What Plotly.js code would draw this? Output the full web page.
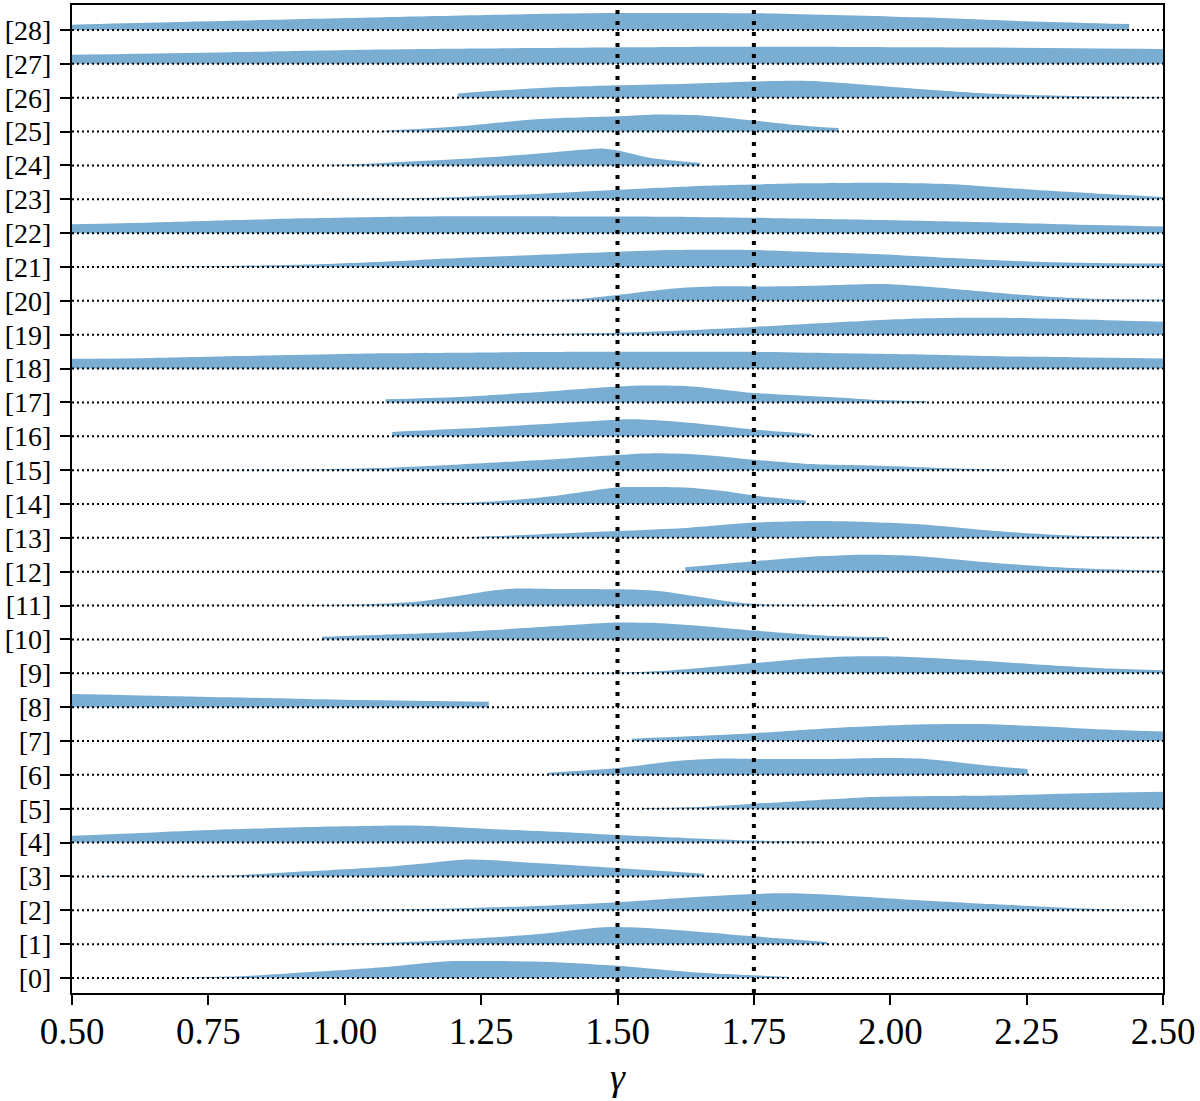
<!DOCTYPE html>
<html>
<head>
<meta charset="utf-8">
<script src="https://cdn.plot.ly/plotly-3.0.1.min.js"></script>
<style>html,body{margin:0;padding:0;background:#fff;}#chart{width:1200px;height:1101px;}</style>
</head>
<body>
<div id="chart"></div>
<script>
// Row labels
const rowLabels = ["[0]","[1]","[2]","[3]","[4]","[5]","[6]","[7]","[8]","[9]","[10]","[11]","[12]","[13]","[14]","[15]","[16]","[17]","[18]","[19]","[20]","[21]","[22]","[23]","[24]","[25]","[26]","[27]","[28]"];
// x tick values
const xTicks = [0.5, 0.75, 1.0, 1.25, 1.5, 1.75, 2.0, 2.25, 2.5];
// reference vertical lines
const refLines = [1.5, 1.75];

// Density profiles: gamma positions and relative density (peak = 1)
const gx0  = [0.698,0.817,0.93,1.07,1.182,1.252,1.365,1.5,1.631,1.75,1.814];
const d0   = [0.02,0.12,0.34,0.64,0.98,1.0,0.96,0.72,0.36,0.16,0.08];
const gx1  = [0.915,1.07,1.21,1.351,1.435,1.477,1.533,1.631,1.75,1.884];
const d1   = [0.02,0.08,0.28,0.58,0.88,1.0,0.98,0.78,0.46,0.12];
const gx2  = [0.986,1.21,1.351,1.5,1.631,1.75,1.814,1.912,2.052,2.193,2.333,2.403,2.5];
const d2   = [0.02,0.12,0.26,0.48,0.76,0.96,1.0,0.88,0.6,0.36,0.14,0.06,0.02];
const gx3  = [0.551,0.789,0.929,1.07,1.154,1.224,1.351,1.5,1.659];
const d3   = [0.02,0.06,0.3,0.56,0.8,1.0,0.8,0.5,0.16];
const gx4  = [0.5,0.649,0.789,0.958,1.07,1.154,1.28,1.421,1.5,1.631,1.75,1.877];
const d4   = [0.4,0.6,0.78,0.94,1.0,0.98,0.78,0.58,0.44,0.26,0.12,0.06];
const gx5  = [1.547,1.631,1.75,1.842,1.982,2.193,2.333,2.5];
const d5   = [0.04,0.08,0.3,0.46,0.7,0.78,0.9,1.0];
const gx6  = [1.372,1.5,1.603,1.687,1.75,1.884,1.982,2.052,2.165,2.252];
const d6   = [0.12,0.4,0.8,0.96,0.94,0.94,1.0,0.96,0.6,0.34];
const gx7  = [1.526,1.631,1.75,1.912,2.052,2.165,2.263,2.403,2.5];
const d7   = [0.14,0.28,0.46,0.8,0.98,1.0,0.88,0.66,0.56];
const gx8  = [0.5,0.649,0.789,0.929,1.07,1.264];
const d8   = [0.78,0.68,0.58,0.48,0.4,0.32];
const gx9  = [1.266,1.5,1.603,1.75,1.842,1.94,2.024,2.136,2.263,2.403,2.5];
const d9   = [0.02,0.04,0.18,0.6,0.86,1.0,0.98,0.8,0.54,0.28,0.18];
const gx10 = [0.958,1.07,1.21,1.351,1.5,1.561,1.659,1.75,1.884,1.996];
const d10  = [0.16,0.28,0.44,0.72,1.0,0.98,0.78,0.52,0.22,0.14];
const gx11 = [0.726,1.014,1.14,1.266,1.308,1.393,1.5,1.575,1.701,1.75,1.919];
const d11  = [0.02,0.06,0.26,0.86,1.0,0.98,0.96,0.86,0.26,0.1,0.04];
const gx12 = [1.624,1.75,1.842,1.954,2.052,2.193,2.333,2.5];
const d12  = [0.26,0.62,0.86,1.0,0.92,0.52,0.22,0.06];
const gx13 = [1.224,1.351,1.5,1.631,1.75,1.856,1.912,2.052,2.193,2.333,2.5];
const d13  = [0.02,0.2,0.4,0.6,0.9,1.0,0.98,0.8,0.4,0.14,0.06];
const gx14 = [1.157,1.28,1.379,1.5,1.547,1.631,1.701,1.75,1.845];
const d14  = [0.02,0.16,0.46,0.98,1.0,0.96,0.74,0.5,0.2];
const gx15 = [0.593,0.929,1.056,1.21,1.351,1.5,1.575,1.659,1.75,1.842,1.982,2.122,2.221];
const d15  = [0.01,0.04,0.12,0.34,0.58,0.9,1.0,0.9,0.62,0.38,0.26,0.1,0.04];
const gx16 = [1.087,1.21,1.351,1.5,1.533,1.631,1.75,1.856];
const d16  = [0.26,0.44,0.7,0.98,1.0,0.8,0.4,0.14];
const gx17 = [1.075,1.21,1.351,1.5,1.554,1.631,1.75,1.842,1.912,1.982,2.066];
const d17  = [0.18,0.32,0.6,0.94,1.0,0.96,0.56,0.4,0.28,0.14,0.08];
const gx18 = [0.5,0.649,0.789,0.929,1.07,1.21,1.351,1.772,1.912,2.052,2.193,2.333,2.5];
const d18  = [0.58,0.63,0.73,0.81,0.9,0.94,0.98,0.98,0.9,0.83,0.73,0.67,0.6];
const gx19 = [1.294,1.5,1.631,1.75,1.912,2.052,2.193,2.333,2.5];
const d19  = [0.02,0.12,0.27,0.46,0.75,0.96,1.0,0.92,0.77];
const gx20 = [1.294,1.421,1.5,1.603,1.673,1.75,1.842,1.982,2.052,2.165,2.263,2.361,2.5];
const d20  = [0.02,0.1,0.35,0.73,0.85,0.85,0.88,1.0,0.88,0.57,0.3,0.14,0.08];
const gx21 = [0.5,0.789,0.929,1.07,1.21,1.351,1.5,1.603,1.75,1.842,1.982,2.122,2.263,2.403,2.5];
const d21  = [0.01,0.06,0.14,0.31,0.53,0.71,0.9,1.0,1.0,0.9,0.75,0.51,0.31,0.22,0.2];
const gx22 = [0.5,0.649,0.789,0.929,1.07,1.21,1.5,1.631,1.772,1.912,2.052,2.193,2.333,2.5];
const d22  = [0.53,0.63,0.76,0.88,0.96,1.0,0.98,0.96,0.9,0.82,0.73,0.63,0.51,0.39];
const gx23 = [0.901,1.07,1.21,1.351,1.5,1.631,1.75,1.842,1.982,2.052,2.136,2.263,2.361,2.5];
const d23  = [0.02,0.04,0.14,0.31,0.56,0.76,0.87,0.94,0.98,0.94,0.85,0.56,0.37,0.14];
const gx24 = [0.972,1.07,1.21,1.351,1.435,1.47,1.5,1.561,1.652];
const d24  = [0.02,0.15,0.38,0.69,0.92,1.0,0.88,0.44,0.15];
const gx25 = [1.064,1.21,1.351,1.5,1.561,1.659,1.75,1.842,1.905];
const d25  = [0.02,0.31,0.73,0.9,1.0,0.94,0.65,0.35,0.21];
const gx26 = [1.207,1.351,1.5,1.631,1.75,1.842,1.912,2.052,2.193,2.333,2.5];
const d26  = [0.25,0.56,0.73,0.83,0.96,1.0,0.87,0.52,0.23,0.1,0.04];
const gx27 = [0.5,0.789,1.07,1.351,1.631,1.912,2.193,2.5];
const d27  = [0.54,0.69,0.85,0.94,1.0,1.0,0.96,0.88];
const gx28 = [0.5,0.789,1.07,1.351,1.491,1.772,2.052,2.263,2.438];
const d28  = [0.31,0.54,0.75,0.94,1.0,0.98,0.75,0.5,0.35];

const profilesX = [gx0,gx1,gx2,gx3,gx4,gx5,gx6,gx7,gx8,gx9,gx10,gx11,gx12,gx13,gx14,gx15,gx16,gx17,gx18,gx19,gx20,gx21,gx22,gx23,gx24,gx25,gx26,gx27,gx28];
const profilesD = [d0,d1,d2,d3,d4,d5,d6,d7,d8,d9,d10,d11,d12,d13,d14,d15,d16,d17,d18,d19,d20,d21,d22,d23,d24,d25,d26,d27,d28];

const HALF = 0.5;
const fillColor = 'rgba(31,119,180,0.6)';

const traces = [];
profilesX.forEach((xs, i) => {
  const ds = profilesD[i];
  // baseline of the half-violin
  traces.push({
    type: 'scatter', mode: 'lines',
    x: [xs[0], xs[xs.length - 1]], y: [i, i],
    line: {width: 0, color: 'rgba(0,0,0,0)'},
    hoverinfo: 'skip', showlegend: false
  });
  // smoothed upper outline, filled down to the baseline
  traces.push({
    type: 'scatter', mode: 'lines',
    x: xs, y: ds.map(d => i + HALF * d),
    fill: 'tonexty', fillcolor: fillColor,
    line: {width: 0, color: fillColor, shape: 'spline', smoothing: 0.8},
    hoverinfo: 'skip', showlegend: false
  });
});

const shapes = [];
rowLabels.forEach((lab, i) => {
  shapes.push({type: 'line', xref: 'paper', yref: 'y', x0: 0, x1: 1, y0: i, y1: i,
    line: {color: 'black', width: 2, dash: '2px,3px'}, layer: 'above'});
});
refLines.forEach(v => {
  shapes.push({type: 'line', xref: 'x', yref: 'paper', x0: v, x1: v, y0: 0, y1: 1,
    line: {color: 'black', width: 4, dash: '4px,7px'}, layer: 'above'});
});

const serif = '"Liberation Serif", "DejaVu Serif", serif';
const layout = {
  width: 1200, height: 1101,
  margin: {l: 72, r: 37, t: 5, b: 108},
  paper_bgcolor: 'white', plot_bgcolor: 'white',
  showlegend: false,
  xaxis: {
    range: [0.5, 2.5], tickvals: xTicks, ticktext: xTicks.map(v => v.toFixed(2)),
    ticks: 'outside', ticklen: 10, tickwidth: 2, tickcolor: 'black',
    showline: true, linewidth: 2, linecolor: 'black', mirror: true,
    showgrid: false, zeroline: false, ticklabelstandoff: -5,
    tickfont: {family: serif, size: 37, color: 'black'},
    title: {text: '<i>γ</i>', font: {family: serif, size: 38, color: 'black'}, standoff: 12}
  },
  yaxis: {
    range: [-0.443, 28.738], tickvals: rowLabels.map((_, i) => i), ticktext: rowLabels,
    ticks: 'outside', ticklen: 10, tickwidth: 2, tickcolor: 'black',
    showline: true, linewidth: 2, linecolor: 'black', mirror: true,
    showgrid: false, zeroline: false, ticklabelstandoff: 3,
    tickfont: {family: serif, size: 28, color: 'black'}
  },
  shapes: shapes
};

Plotly.newPlot('chart', traces, layout, {staticPlot: true, displayModeBar: false});
</script>
</body>
</html>
